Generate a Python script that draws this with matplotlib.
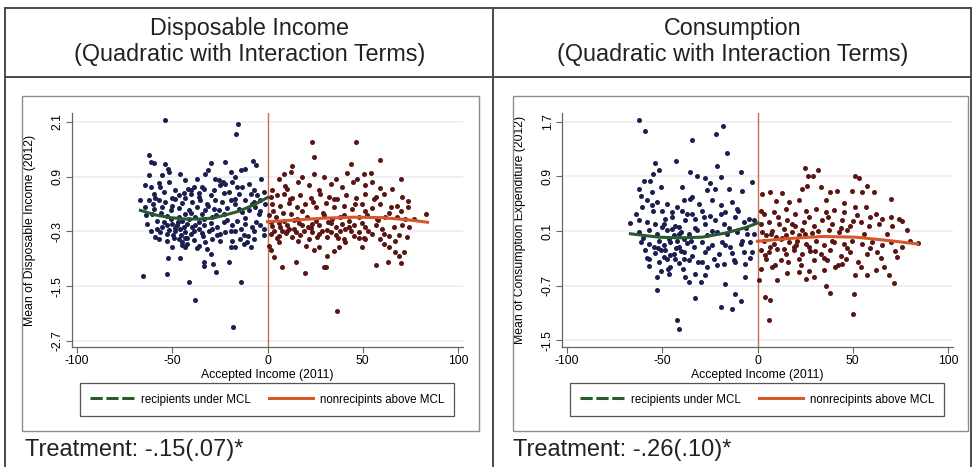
import matplotlib.pyplot as plt
from matplotlib.lines import Line2D
from matplotlib.patches import Rectangle

plt.rcParams['font.family'] = ['Liberation Sans', 'DejaVu Sans']
plt.rcParams['axes.unicode_minus'] = False

# ---- data (x = accepted income, y = outcome) ----
# Disposable income panel, recipients under MCL
di_rec = [
    (-53.9, 2.14), (-15.4, 2.06), (-16.5, 1.82), (-62.3, 1.37), (-65.4, -1.28), (-52.7, -1.24),
    (-41.0, -1.41), (-37.8, -1.81), (-13.7, -1.41), (-18.0, -2.40), (-26.8, -1.18), (-33.4, -1.06),
    (-33.1, -0.96), (-29.9, -0.80), (-28.7, -1.02), (-52.3, -0.89), (-45.7, -0.89), (-20.0, -0.96),
    (-61.4, 1.22), (-59.7, 1.20), (-53.6, 1.18), (-51.8, 1.00), (-45.7, 0.96), (-29.9, 1.20),
    (-22.4, 1.22), (-7.7, 1.24), (-6.0, 1.15), (-31.2, 1.04), (-32.6, 0.96), (-36.9, 0.85),
    (-52.2, 1.07), (-62.3, 0.93), (-55.3, 0.93), (-19.4, 1.00), (-13.7, 1.05), (-11.6, 1.07),
    (-3.2, 0.85), (-27.3, 0.85), (-25.6, 0.82), (-16.8, 0.90), (-23.5, 0.78), (-43.1, 0.82),
    (-64.1, 0.71), (-61.4, 0.67), (-57.1, 0.76), (-56.2, 0.66), (-51.8, 0.78), (-48.3, 0.60),
    (-41.7, 0.63), (-38.7, 0.67), (-34.3, 0.68), (-33.4, 0.63), (-28.2, 0.60), (-24.7, 0.71),
    (-22.1, 0.73), (-18.6, 0.78), (-15.9, 0.66), (-13.3, 0.68), (-9.8, 0.73), (-7.2, 0.61),
    (-1.9, 0.56), (-59.7, 0.52), (-54.4, 0.56), (-46.5, 0.49), (-40.4, 0.51), (-36.1, 0.54),
    (-29.9, 0.49), (-20.3, 0.56), (-15.1, 0.52), (-8.9, 0.52), (-5.4, 0.49), (-58.8, 0.43),
    (-50.1, 0.43), (-43.1, 0.43),
    (-66.7, 0.38), (-62.3, 0.39), (-57.1, 0.38), (-53.6, 0.34), (-48.3, 0.41), (-44.8, 0.32),
    (-39.6, 0.34), (-35.2, 0.38), (-31.7, 0.30), (-27.3, 0.39), (-23.8, 0.34), (-19.4, 0.39),
    (-16.8, 0.29), (-11.6, 0.38), (-7.2, 0.34), (-3.7, 0.38), (-1.4, 0.30), (-64.1, 0.23),
    (-59.7, 0.19), (-55.3, 0.23), (-50.9, 0.16), (-46.5, 0.21), (-41.3, 0.17), (-36.9, 0.23),
    (-32.6, 0.16), (-28.2, 0.19), (-25.6, 0.16), (-21.2, 0.21), (-15.1, 0.19), (-9.8, 0.17),
    (-6.3, 0.23), (-60.6, 0.07), (-52.7, 0.04), (-43.1, 0.08), (-34.3, 0.07), (-29.1, 0.02),
    (-22.9, 0.08), (-13.3, 0.12), (-4.6, 0.07),
    (-63.2, -0.14), (-57.9, -0.07), (-54.4, -0.10), (-50.1, -0.14), (-47.4, -0.17), (-44.8, -0.08),
    (-42.2, -0.14), (-39.6, -0.20), (-36.1, -0.10), (-33.4, -0.17), (-29.9, -0.12), (-26.4, -0.21),
    (-22.9, -0.10), (-18.6, -0.17), (-15.9, -0.07), (-11.6, -0.14), (-8.1, -0.21), (-3.7, -0.17),
    (-61.4, -0.29), (-56.2, -0.32), (-51.8, -0.27), (-48.3, -0.30), (-45.7, -0.25), (-43.1, -0.32),
    (-38.7, -0.30), (-34.3, -0.34), (-30.8, -0.29), (-26.4, -0.37), (-22.1, -0.32), (-16.8, -0.29),
    (-12.4, -0.37), (-7.2, -0.30), (-1.9, -0.39), (-58.8, -0.42),
    (-57.1, -0.47), (-52.7, -0.51), (-49.2, -0.45), (-44.8, -0.54), (-42.2, -0.58), (-38.7, -0.49),
    (-36.1, -0.62), (-32.6, -0.54), (-29.1, -0.47), (-24.7, -0.51), (-18.6, -0.51), (-14.2, -0.47),
    (-10.7, -0.54), (-7.2, -0.47), (-50.1, -0.65), (-43.1, -0.65), (-36.9, -0.67), (-31.7, -0.69),
    (-19.4, -0.64), (-16.8, -0.65), (-12.4, -0.58), (-8.9, -0.65),
    (-50.9, -0.03), (-46.5, 0.01), (-43.9, -0.21), (-41.3, -0.03), (-37.8, 0.01), (-48.6, -0.23),
    (-40.4, -0.36), (-45.2, -0.37), (-36.1, -0.25), (-49.7, -0.37), (-43.4, -0.45), (-46.5, -0.47),
    (-33.4, -0.03), (-52.7, -0.17), (-55.3, -0.21),
    (-60.0, 0.30), (-56.0, 0.10), (-53.0, -0.35), (-50.0, 0.25), (-47.0, -0.10), (-44.0, 0.55),
    (-42.0, -0.45), (-40.0, 0.10), (-38.0, -0.15), (-36.0, 0.45), (-34.0, -0.40), (-31.0, 0.25),
    (-29.0, -0.25), (-27.0, 0.05), (-25.0, -0.35), (-23.0, 0.55), (-21.0, -0.05), (-19.0, -0.30),
    (-17.0, 0.40), (-14.0, -0.25), (-12.0, 0.00), (-10.0, -0.40), (-8.0, 0.30), (-6.0, -0.10),
    (-4.0, 0.15), (-2.0, -0.25), (-64.0, 0.05), (-58.0, -0.25), (-45.0, -0.60), (-40.0, 0.60),
]

# Disposable income panel, nonrecipients above MCL
di_non = [
    (23.5, 1.66), (46.5, 1.66), (24.3, 1.33), (58.8, 1.27), (43.6, 1.18), (13.0, 1.12),
    (36.6, -2.05), (7.4, -1.09), (14.7, -0.96), (19.6, -1.21), (29.6, -1.08), (30.8, -1.08),
    (57.1, -1.04), (63.3, -0.98), (69.8, -1.00), (3.3, -0.85), (83.0, 0.07),
    (6.0, 0.85), (8.6, 0.96), (12.1, 1.00), (18.2, 0.89), (24.3, 0.95), (29.6, 0.90),
    (35.7, 0.85), (41.8, 0.98), (47.1, 0.85), (50.6, 0.96), (54.1, 0.98), (69.8, 0.84),
    (2.5, 0.61), (10.3, 0.63), (16.1, 0.78), (21.7, 0.71), (26.9, 0.60), (33.1, 0.73),
    (38.9, 0.68), (44.8, 0.78), (51.4, 0.71), (54.9, 0.78), (59.3, 0.65), (65.1, 0.63),
    (1.6, 0.45), (5.1, 0.49), (8.6, 0.52), (13.0, 0.43), (17.3, 0.49), (22.6, 0.43),
    (27.8, 0.52), (32.2, 0.46), (36.6, 0.41), (41.0, 0.49), (46.2, 0.43), (51.4, 0.52),
    (56.7, 0.46), (61.1, 0.52), (70.7, 0.46), (73.8, 0.36), (2.5, 0.30), (6.8, 0.26),
    (11.2, 0.32), (15.6, 0.23), (19.9, 0.29), (25.2, 0.24), (30.5, 0.32), (34.8, 0.23),
    (40.1, 0.26), (44.4, 0.19), (49.7, 0.29), (54.6, 0.21), (59.3, 0.30), (64.6, 0.23),
    (68.1, 0.26), (73.8, 0.24),
    (0.7, 0.05), (4.2, 0.01), (8.6, -0.07), (12.1, 0.08), (15.6, -0.03), (20.8, 0.02),
    (25.2, -0.07), (29.6, 0.05), (34.0, -0.03), (38.3, 0.02), (42.7, -0.07), (47.9, 0.01),
    (52.3, 0.05), (57.6, -0.03), (61.9, 0.01), (68.1, 0.02), (72.4, -0.03), (76.8, -0.03),
    (2.5, -0.18), (6.8, -0.21), (10.3, -0.15), (13.8, -0.25), (18.2, -0.17), (22.6, -0.23),
    (26.9, -0.17), (31.3, -0.27), (35.7, -0.20), (40.9, -0.25), (45.3, -0.17), (51.4, -0.21),
    (56.7, -0.15), (60.2, -0.25), (66.3, -0.21), (70.7, -0.17),
    (1.6, -0.36), (6.0, -0.40), (9.5, -0.34), (13.0, -0.43), (17.3, -0.37), (21.7, -0.47),
    (26.1, -0.42), (31.3, -0.43), (35.7, -0.37), (40.1, -0.47), (45.3, -0.40), (50.6, -0.45),
    (55.0, -0.36), (59.3, -0.47), (63.7, -0.40), (69.0, -0.37), (73.3, -0.43), (0.7, -0.62),
    (6.0, -0.54), (20.0, -0.62), (24.3, -0.71), (31.3, -0.84), (34.8, -0.73), (37.4, -0.65),
    (40.9, -0.54), (49.7, -0.65), (51.4, -0.47), (61.1, -0.58), (63.7, -0.65), (66.9, -0.76),
    (69.0, -0.84), (71.6, -0.76), (26.9, -0.64),
    (3.3, -0.29), (7.7, -0.30), (11.2, -0.25), (14.7, -0.32), (19.1, -0.29), (23.5, -0.32),
    (28.7, -0.29), (33.1, -0.32), (38.3, -0.29), (43.6, -0.30), (47.9, -0.32), (1.6, -0.10),
    (6.0, -0.12), (16.5, -0.12), (23.5, -0.14), (33.1, -0.12), (39.2, -0.14), (49.7, -0.12),
    (3.0, 0.15), (5.0, -0.45), (8.0, 0.10), (10.0, -0.30), (12.0, 0.40), (14.0, -0.05),
    (16.0, -0.50), (18.0, 0.15), (21.0, -0.20), (24.0, 0.35), (27.0, -0.35), (29.0, 0.10),
    (32.0, -0.10), (35.0, 0.40), (37.0, -0.45), (40.0, 0.05), (43.0, -0.20), (46.0, 0.30),
    (48.0, -0.45), (51.0, 0.15), (53.0, -0.30), (56.0, 0.40), (58.0, -0.05), (61.0, -0.35),
    (64.0, 0.10), (67.0, -0.50), (70.0, 0.15), (74.0, -0.20), (2.0, -0.70), (9.0, 0.70),
]

# Consumption panel, recipients under MCL
co_rec = [
    (-62.3, 1.73), (-59.2, 1.57), (-18.2, 1.64), (-21.7, 1.52), (-34.3, 1.44), (-15.9, 1.25),
    (-42.7, 1.13), (-53.6, 1.10), (-42.2, -1.20), (-41.0, -1.34), (-19.4, -1.01), (-13.3, -1.05),
    (-8.9, -0.92), (-11.6, -0.82), (-32.9, -0.88), (-52.5, -0.76), (-57.1, -0.41),
    (-51.8, 0.99), (-55.0, 0.94), (-59.7, 0.84), (-56.2, 0.83), (-35.2, 0.97), (-31.7, 0.90),
    (-21.2, 1.06), (-19.4, 0.89), (-8.9, 0.97), (-2.8, 0.82), (-62.3, 0.72), (-55.3, 0.67),
    (-50.9, 0.74), (-39.6, 0.75), (-27.3, 0.87), (-24.7, 0.80), (-26.4, 0.70), (-22.1, 0.71),
    (-15.1, 0.72), (-8.1, 0.69), (-34.3, 0.60), (-35.2, 0.57),
    (-61.4, 0.62), (-57.9, 0.55), (-52.7, 0.53), (-47.4, 0.50), (-42.2, 0.45), (-38.7, 0.55),
    (-30.8, 0.50), (-23.8, 0.56), (-19.4, 0.48), (-13.3, 0.53), (-10.7, 0.43), (-60.6, 0.45),
    (-55.3, 0.48), (-50.1, 0.40), (-44.8, 0.38), (-39.6, 0.40), (-34.3, 0.35), (-29.1, 0.40),
    (-24.7, 0.32), (-16.8, 0.38), (-11.6, 0.31), (-4.6, 0.28), (-66.7, 0.22), (-62.3, 0.26),
    (-57.9, 0.23), (-53.6, 0.21), (-48.3, 0.28), (-43.1, 0.18), (-37.8, 0.26), (-32.6, 0.28),
    (-27.3, 0.21), (-22.1, 0.26), (-17.6, 0.20), (-7.2, 0.23), (-1.9, 0.26),
    (-62.3, 0.09), (-57.1, 0.11), (-52.7, 0.06), (-47.4, 0.11), (-43.9, 0.04), (-40.4, 0.09),
    (-36.1, 0.05), (-31.7, 0.11), (-26.4, 0.04), (-21.2, 0.09), (-15.9, 0.06), (-10.7, 0.09),
    (-5.4, 0.05), (-61.4, -0.06), (-57.1, -0.09), (-51.8, -0.04), (-49.2, -0.11), (-45.7, -0.06),
    (-41.3, -0.13), (-36.9, -0.08), (-33.4, -0.14), (-29.1, -0.06), (-23.8, -0.11), (-18.6, -0.06),
    (-14.2, -0.13), (-8.9, -0.09), (-3.7, -0.06), (-58.8, -0.18), (-53.6, -0.22), (-48.3, -0.18),
    (-43.9, -0.23), (-38.7, -0.21), (-34.3, -0.26), (-27.3, -0.21), (-20.3, -0.24), (-13.3, -0.22),
    (-7.2, -0.21), (-2.8, -0.21),
    (-57.1, -0.31), (-51.8, -0.36), (-47.4, -0.31), (-45.7, -0.43), (-41.3, -0.37), (-36.1, -0.33),
    (-29.1, -0.36), (-26.4, -0.43), (-22.9, -0.31), (-17.6, -0.39), (-12.4, -0.33), (-6.3, -0.38),
    (-50.9, -0.48), (-46.5, -0.53), (-37.8, -0.58), (-32.6, -0.53), (-29.9, -0.65), (-27.3, -0.54),
    (-36.1, -0.65), (-16.8, -0.67), (-6.3, -0.58), (-52.7, -0.58),
    (-50.1, 0.16), (-46.5, -0.01), (-42.2, -0.04), (-38.7, -0.01), (-49.2, -0.28), (-43.1, -0.31),
    (-38.7, -0.31), (-50.9, -0.18), (-54.4, -0.13), (-41.3, 0.16), (-44.8, 0.13),
    (-64.0, 0.35), (-60.0, 0.00), (-58.0, -0.30), (-55.0, 0.40), (-52.0, -0.15), (-49.0, 0.20),
    (-47.0, -0.45), (-45.0, 0.30), (-43.0, -0.15), (-41.0, 0.05), (-39.0, -0.45), (-37.0, 0.35),
    (-35.0, -0.05), (-33.0, 0.15), (-31.0, -0.35), (-28.0, 0.30), (-26.0, -0.15), (-24.0, 0.10),
    (-21.0, -0.40), (-19.0, 0.35), (-17.0, -0.10), (-15.0, 0.15), (-12.0, -0.35), (-10.0, 0.40),
    (-8.0, -0.05), (-6.0, 0.15), (-4.0, -0.30), (-2.0, 0.05), (-46.0, -0.25), (-40.0, -0.20),
]

# Consumption panel, nonrecipients above MCL
co_non = [
    (24.9, 1.03), (31.8, 1.00), (26.6, 0.90), (29.1, 0.90), (51.1, 0.90), (53.2, 0.88),
    (6.0, -1.20), (6.3, -0.91), (3.9, -0.86), (50.0, -1.12), (38.3, -0.81), (35.7, -0.70),
    (50.6, -0.82), (71.6, -0.66), (84.2, -0.08),
    (2.5, 0.64), (6.8, 0.67), (13.0, 0.66), (23.4, 0.72), (26.1, 0.76), (33.1, 0.74),
    (38.3, 0.67), (41.8, 0.68), (49.7, 0.69), (54.6, 0.67), (57.6, 0.76), (61.1, 0.67),
    (70.3, 0.57), (9.5, 0.54), (16.5, 0.53), (21.7, 0.55), (35.7, 0.56), (45.3, 0.51),
    (51.4, 0.45), (56.7, 0.45),
    (3.3, 0.35), (8.6, 0.38), (14.7, 0.43), (19.9, 0.35), (25.2, 0.40), (30.5, 0.43),
    (35.7, 0.38), (40.1, 0.41), (45.3, 0.38), (52.3, 0.33), (59.3, 0.31), (65.1, 0.28),
    (69.8, 0.30), (74.2, 0.27), (1.6, 0.21), (6.0, 0.23), (11.2, 0.20), (15.6, 0.26),
    (19.9, 0.18), (24.3, 0.23), (29.6, 0.18), (34.0, 0.26), (39.2, 0.21), (44.4, 0.26),
    (48.8, 0.18), (54.1, 0.23), (58.4, 0.18), (63.7, 0.21), (70.7, 0.18), (78.6, 0.11),
    (2.5, 0.09), (7.7, 0.10), (13.8, 0.13), (18.2, 0.09), (23.5, 0.11), (28.7, 0.07),
    (37.4, 0.11), (42.7, 0.09), (47.1, 0.11),
    (3.3, -0.04), (8.6, -0.09), (12.1, -0.01), (16.5, -0.06), (20.8, -0.04), (25.2, -0.09),
    (30.5, -0.05), (34.8, -0.10), (40.1, -0.06), (45.3, -0.09), (49.7, -0.05), (54.9, -0.09),
    (60.2, -0.06), (65.5, -0.11), (69.8, -0.06), (75.9, -0.13), (1.6, -0.18), (6.0, -0.21),
    (10.3, -0.16), (14.7, -0.23), (19.1, -0.18), (23.5, -0.24), (27.8, -0.19), (33.1, -0.23),
    (38.3, -0.18), (43.6, -0.26), (48.8, -0.21), (57.6, -0.23), (62.8, -0.21), (73.3, -0.28),
    (4.2, -0.31), (12.1, -0.33), (21.7, -0.31), (29.6, -0.33), (36.6, -0.32), (46.2, -0.31),
    (1.6, -0.45), (7.7, -0.43), (15.6, -0.52), (22.6, -0.40), (26.9, -0.48), (29.6, -0.58),
    (34.8, -0.47), (40.9, -0.43), (44.4, -0.39), (51.4, -0.55), (54.1, -0.43), (57.6, -0.55),
    (62.0, -0.47), (66.3, -0.43), (68.9, -0.54), (0.7, -0.62), (10.3, -0.62), (25.2, -0.60),
    (4.2, 0.04), (9.5, 0.01), (14.7, 0.04), (19.1, -0.13), (6.8, -0.13), (26.9, -0.13),
    (21.7, 0.04), (13.8, -0.16),
    (2.0, 0.40), (4.0, -0.25), (7.0, 0.05), (9.0, -0.40), (11.0, 0.30), (13.0, 0.00),
    (16.0, -0.35), (18.0, 0.20), (20.0, -0.10), (22.0, -0.50), (25.0, 0.05), (27.0, 0.30),
    (30.0, -0.20), (32.0, 0.10), (35.0, -0.30), (37.0, 0.30), (39.0, -0.05), (42.0, -0.40),
    (44.0, 0.15), (47.0, -0.15), (50.0, 0.25), (53.0, -0.35), (56.0, 0.05), (59.0, -0.15),
    (62.0, 0.35), (65.0, -0.30), (68.0, 0.05), (72.0, -0.20), (76.0, 0.25), (80.0, -0.05),
]

# fitted quadratic lines
di_rec_fit = [(-66.7, 0.16), (-58.8, 0.06), (-50.9, 0.00), (-43.1, -0.03), (-36.0, -0.03),
              (-29.0, -0.01), (-23.8, 0.04), (-15.1, 0.14), (-7.2, 0.28), (0.0, 0.44)]
di_non_fit = [(0.0, -0.09), (15.0, -0.05), (30.0, -0.01), (45.0, 0.01), (60.0, 0.00),
              (72.0, -0.04), (84.0, -0.10)]
co_rec_fit = [(-66.7, 0.06), (-58.0, 0.03), (-51.8, 0.01), (-41.5, 0.00), (-29.1, 0.01),
              (-16.8, 0.07), (-6.3, 0.15), (0.3, 0.22)]
co_non_fit = [(0.0, -0.05), (16.5, -0.01), (34.0, 0.02), (51.4, 0.01), (69.0, -0.04), (84.0, -0.09)]

titles = ['Disposable Income', 'Consumption']
subtitle = '(Quadratic with Interaction Terms)'
ylabels = ['Mean of Disposable Income (2012)', 'Mean of Consumption Expenditure (2012)']
yticks = [[-2.7, -1.5, -0.3, 0.9, 2.1], [-1.5, -0.7, 0.1, 0.9, 1.7]]
ylims = [(-2.83, 2.29), (-1.60, 1.83)]
xticks = [-100, -50, 0, 50, 100]
treatment = ['Treatment: -.15(.07)*', 'Treatment: -.26(.10)*']
legend_labels = ['recipients under MCL', 'nonrecipints above MCL']

BLUE = '#1b1f4f'
MAROON = '#5a1612'
GREEN = '#2b5a2c'
ORANGE = '#d8572a'
ZERO = '#c66e4e'

W, H = 973, 467
fig = plt.figure(figsize=(W / 100, H / 100), dpi=100)


def fx(px):
    return px / W


def fy(py):
    return 1 - py / H


# table lines round the two panels
line_kw = dict(color='#4a4a4a', lw=1.4, transform=fig.transFigure)
fig.add_artist(Line2D([fx(5), fx(971)], [fy(8), fy(8)], **line_kw))
fig.add_artist(Line2D([fx(5), fx(971)], [fy(77), fy(77)], **line_kw))
fig.add_artist(Line2D([fx(5), fx(5)], [fy(8), 0], **line_kw))
fig.add_artist(Line2D([fx(493), fx(493)], [fy(8), 0], **line_kw))
fig.add_artist(Line2D([fx(971), fx(971)], [fy(8), 0], **line_kw))

panels = [
    (0, di_rec, di_non, di_rec_fit, di_non_fit, (22, 479)),
    (490, co_rec, co_non, co_rec_fit, co_non_fit, (513, 968)),
]

for i, (ox, rec, non, rec_fit, non_fit, box) in enumerate(panels):
    # header text
    cx = 250 if i == 0 else 733
    fig.text(fx(cx), fy(28), titles[i], ha='center', va='center', fontsize=16.8, color='#222')
    fig.text(fx(cx), fy(55), subtitle, ha='center', va='center', fontsize=16.8, color='#222')
    fig.text(fx(25 if i == 0 else 513), fy(450), treatment[i], ha='left', va='center',
             fontsize=17, color='#222')

    # grey graph frame
    fig.add_artist(Rectangle((fx(box[0]), fy(431)), (box[1] - box[0]) / W, (431 - 96) / H,
                             fill=False, edgecolor='#8c8c8c', lw=1.0, transform=fig.transFigure))

    ax = fig.add_axes([fx(ox + 72), fy(347), (463 - 72) / W, (347 - 113) / H])
    ax.set_xlim(-102.6, 102.6)
    ax.set_ylim(*ylims[i])
    ax.set_axisbelow(True)
    ax.yaxis.grid(True, color='#eceef0', lw=1.2)

    ax.axvline(0, color=ZERO, lw=1.0, zorder=1)

    ax.scatter([p[0] for p in rec], [p[1] for p in rec], s=13, color=BLUE, linewidths=0, zorder=2)
    ax.scatter([p[0] for p in non], [p[1] for p in non], s=13, color=MAROON, linewidths=0, zorder=2)
    ax.plot([p[0] for p in rec_fit], [p[1] for p in rec_fit], color=GREEN, lw=2.2, zorder=3)
    ax.plot([p[0] for p in non_fit], [p[1] for p in non_fit], color=ORANGE, lw=2.2, zorder=3)

    for s in ['top', 'right']:
        ax.spines[s].set_visible(False)
    for s in ['left', 'bottom']:
        ax.spines[s].set_color('#666666')
        ax.spines[s].set_linewidth(0.9)

    ax.set_xticks(xticks)
    ax.set_xticklabels([str(t) for t in xticks], fontsize=8.8)
    ax.set_yticks(yticks[i])
    ax.set_yticklabels([f'{t:.1f}' for t in yticks[i]], fontsize=8.8, rotation=90, va='center')
    ax.tick_params(direction='out', length=4, color='#666666', pad=2)
    ax.set_xlabel('Accepted Income (2011)', fontsize=8.8, labelpad=1)
    ax.set_ylabel(ylabels[i], fontsize=8.8)
    ax.yaxis.set_label_coords((36 - 72) / 391, 0.5)

    handles = [Line2D([], [], color=GREEN, lw=2.2, ls=(0, (4, 1.2))),
               Line2D([], [], color=ORANGE, lw=2.2)]
    leg = fig.legend(handles, legend_labels, loc='center', ncol=2,
                     bbox_to_anchor=(fx(ox + 267), fy(399.5)), bbox_transform=fig.transFigure,
                     frameon=True, fancybox=False, edgecolor='#555555', framealpha=1,
                     fontsize=8.3, handlelength=3.8, columnspacing=1.6, borderpad=0.9,
                     handletextpad=0.6)
    leg.get_frame().set_linewidth(0.9)

fig.savefig('out.png', dpi=100)
